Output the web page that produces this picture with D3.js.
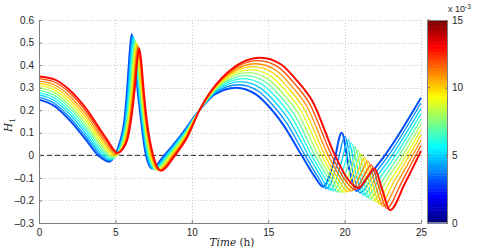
<!DOCTYPE html>
<html>
<head>
<meta charset="utf-8">
<script src="https://cdn.jsdelivr.net/npm/d3@7"></script>
<style>
  body { margin: 0; background: #fff; }
  text { font-family: "Liberation Sans", Arial, sans-serif; }
</style>
</head>
<body>
<div id="chart"></div>
<script>
const width = 479;
const height = 251;

// parameter of each curve (x 10^-3), blue -> red
const params = [3, 4, 5, 6, 7, 8, 9, 10, 11, 12, 13];

// H1 vs time (h), one array per curve
const h1_p3 = [[0,.247],[1,.219],[2,.156],[3,.075],[3.9,-.002],[4.58,-.028],[5.0,.005],[5.3,.06],[5.59,.156],[5.78,.304],[5.93,.45],[6.07,.538],[6.24,.45],[6.43,.304],[6.68,.156],[6.98,.008],[7.4,-.058],[8.2,0],[9.3,.09],[10.5,.2],[11.5,.27],[12.9,.30],[14.2,.27],[15,.22],[16,.134],[17.19,0],[18,-.09],[18.6,-.139],[19.3,-.03],[19.81,.10],[20.3,-.06],[20.79,-.158],[21.6,-.09],[22.64,0],[25,.255]];
const h1_p4 = [[0,.257],[1,.231],[2,.169],[3,.089],[3.95,.006],[4.64,-.024],[5.05,.008],[5.35,.062],[5.64,.157],[5.83,.306],[5.98,.447],[6.12,.532],[6.29,.446],[6.47,.304],[6.72,.156],[7.03,.008],[7.46,-.059],[8.27,0],[9.34,.089],[10.5,.2],[11.55,.278],[13.06,.313],[14.36,.284],[15.19,.231],[16.19,.145],[17.41,0],[18.22,-.092],[18.83,-.147],[19.52,-.037],[20.02,.084],[20.52,-.069],[21.01,-.167],[21.84,-.093],[22.83,-.005],[25,.232]];
const h1_p5 = [[0,.268],[1,.243],[2,.183],[3,.103],[4.0,.013],[4.69,-.020],[5.1,.010],[5.4,.063],[5.68,.159],[5.88,.307],[6.03,.444],[6.17,.525],[6.33,.442],[6.51,.304],[6.75,.156],[7.07,.008],[7.52,-.060],[8.34,0],[9.38,.088],[10.5,.2],[11.6,.285],[13.22,.327],[14.52,.297],[15.38,.242],[16.37,.156],[17.63,0],[18.44,-.093],[19.06,-.153],[19.74,-.043],[20.24,.068],[20.73,-.078],[21.23,-.175],[22.07,-.097],[23.01,-.010],[25,.208]];
const h1_p6 = [[0,.278],[1,.254],[2,.196],[3,.117],[4.05,.021],[4.75,-.016],[5.15,.013],[5.45,.065],[5.73,.160],[5.94,.309],[6.08,.441],[6.22,.519],[6.38,.438],[6.55,.304],[6.79,.156],[7.12,.008],[7.58,-.061],[8.41,0],[9.42,.087],[10.5,.2],[11.65,.293],[13.38,.340],[14.68,.311],[15.57,.253],[16.56,.167],[17.84,0],[18.66,-.095],[19.29,-.158],[19.96,-.050],[20.45,.053],[20.95,-.087],[21.44,-.184],[22.31,-.100],[23.2,-.015],[25,.185]];
const h1_p7 = [[0,.288],[1,.266],[2,.210],[3,.131],[4.1,.029],[4.81,-.012],[5.2,.015],[5.5,.066],[5.77,.162],[5.99,.310],[6.13,.438],[6.27,.512],[6.42,.434],[6.59,.304],[6.83,.156],[7.16,.008],[7.64,-.062],[8.48,0],[9.46,.086],[10.5,.2],[11.7,.300],[13.54,.353],[14.84,.324],[15.76,.264],[16.74,.178],[18.06,0],[18.88,-.096],[19.52,-.162],[20.18,-.056],[20.67,.037],[21.16,-.096],[21.66,-.192],[22.54,-.104],[23.38,-.020],[25,.161]];
const h1_p8 = [[0,.299],[1,.278],[2,.223],[3,.145],[4.15,.037],[4.87,-.008],[5.25,.018],[5.55,.068],[5.82,.163],[6.04,.312],[6.18,.435],[6.32,.506],[6.47,.430],[6.63,.304],[6.87,.156],[7.21,.008],[7.7,-.063],[8.55,0],[9.5,.085],[10.5,.2],[11.75,.308],[13.7,.367],[15.0,.338],[15.95,.275],[16.93,.190],[18.28,0],[19.1,-.098],[19.75,-.164],[20.4,-.063],[20.88,.021],[21.38,-.105],[21.88,-.201],[22.78,-.107],[23.57,-.025],[25,.138]];
const h1_p9 = [[0,.309],[1,.290],[2,.236],[3,.159],[4.2,.044],[4.92,-.004],[5.3,.020],[5.6,.069],[5.87,.164],[6.09,.314],[6.23,.432],[6.36,.500],[6.52,.426],[6.67,.304],[6.9,.156],[7.26,.008],[7.76,-.064],[8.62,0],[9.54,.084],[10.5,.2],[11.8,.315],[13.86,.380],[15.16,.351],[16.14,.286],[17.11,.201],[18.5,0],[19.32,-.099],[19.98,-.164],[20.62,-.069],[21.09,.005],[21.59,-.114],[22.1,-.209],[23.01,-.110],[23.76,-.030],[25,.114]];
const h1_p10 = [[0,.319],[1,.302],[2,.250],[3,.173],[4.25,.052],[4.98,.000],[5.35,.023],[5.65,.071],[5.91,.166],[6.14,.315],[6.28,.429],[6.41,.493],[6.56,.422],[6.71,.304],[6.94,.156],[7.3,.008],[7.82,-.065],[8.69,0],[9.58,.083],[10.5,.2],[11.85,.323],[14.02,.393],[15.32,.365],[16.33,.297],[17.3,.212],[18.72,0],[19.54,-.101],[20.21,-.162],[20.84,-.076],[21.31,-.011],[21.81,-.123],[22.32,-.218],[23.25,-.114],[23.94,-.035],[25,.091]];
const h1_p11 = [[0,.329],[1,.313],[2,.263],[3,.187],[4.3,.060],[5.04,.004],[5.4,.025],[5.7,.072],[5.96,.167],[6.2,.317],[6.33,.426],[6.46,.487],[6.61,.418],[6.75,.304],[6.98,.156],[7.35,.008],[7.88,-.066],[8.76,0],[9.62,.082],[10.5,.2],[11.9,.330],[14.18,.406],[15.48,.378],[16.52,.308],[17.48,.223],[18.93,0],[19.76,-.102],[20.44,-.158],[21.06,-.082],[21.52,-.026],[22.02,-.132],[22.53,-.226],[23.48,-.117],[24.13,-.040],[25,.067]];
const h1_p12 = [[0,.340],[1,.325],[2,.277],[3,.201],[4.35,.067],[5.09,.008],[5.45,.028],[5.75,.074],[6.0,.169],[6.25,.318],[6.38,.423],[6.51,.480],[6.65,.414],[6.79,.304],[7.01,.156],[7.39,.008],[7.94,-.067],[8.83,0],[9.66,.081],[10.5,.2],[11.95,.338],[14.34,.420],[15.64,.392],[16.71,.319],[17.67,.234],[19.15,0],[19.98,-.104],[20.67,-.152],[21.28,-.089],[21.74,-.042],[22.24,-.141],[22.75,-.235],[23.72,-.121],[24.31,-.045],[25,.044]];
const h1_p13 = [[0,.350],[1,.337],[2,.290],[3,.215],[4.4,.075],[5.15,.012],[5.5,.03],[5.8,.075],[6.05,.17],[6.3,.32],[6.43,.42],[6.56,.474],[6.7,.41],[6.83,.304],[7.05,.156],[7.44,.008],[8.0,-.068],[8.9,0],[9.7,.08],[10.5,.2],[12,.345],[14.5,.433],[15.8,.405],[16.9,.33],[17.85,.245],[19.37,0],[20.2,-.105],[20.9,-.145],[21.5,-.095],[21.95,-.058],[22.45,-.15],[22.97,-.243],[23.95,-.124],[24.5,-.05],[25,.02]];

const series = [h1_p3, h1_p4, h1_p5, h1_p6, h1_p7, h1_p8, h1_p9, h1_p10, h1_p11, h1_p12, h1_p13];

const xTicks = [0, 5, 10, 15, 20, 25];
const yTicks = [-0.3, -0.2, -0.1, 0, 0.1, 0.2, 0.3, 0.4, 0.5, 0.6];
const cTicks = [0, 5, 10, 15];
const cDomain = [0, 15];

// MATLAB jet colormap
function jet(v) {
    const c = x => Math.max(0, Math.min(1, x));
    const r = c(1.5 - Math.abs(4 * v - 3));
    const g = c(1.5 - Math.abs(4 * v - 2));
    const b = c(1.5 - Math.abs(4 * v - 1));
    return d3.rgb(r * 255, g * 255, b * 255).formatHex();
}

const plot = { left: 39, right: 421, top: 20, bottom: 223 };
const cbar = { left: 427, right: 448 };

const svg = d3.select("#chart")
    .append("svg")
    .attr("width", width)
    .attr("height", height);

const x = d3.scaleLinear().domain([0, 25]).range([plot.left, plot.right]);
const y = d3.scaleLinear().domain([-0.3, 0.6]).range([plot.bottom, plot.top]);

// dotted grid
const grid = svg.append("g")
    .attr("stroke", "#c8c8c8")
    .attr("stroke-width", 1)
    .attr("stroke-dasharray", "1,2");

grid.selectAll("line.gx")
    .data(xTicks.slice(1))
    .enter().append("line")
    .attr("x1", d => Math.round(x(d)) + 0.5)
    .attr("x2", d => Math.round(x(d)) + 0.5)
    .attr("y1", plot.top)
    .attr("y2", plot.bottom);

grid.selectAll("line.gy")
    .data(yTicks.slice(1))
    .enter().append("line")
    .attr("x1", plot.left)
    .attr("x2", plot.right)
    .attr("y1", d => Math.round(y(d)) + 0.5)
    .attr("y2", d => Math.round(y(d)) + 0.5);

// zero line
svg.append("line")
    .attr("x1", plot.left)
    .attr("x2", plot.right)
    .attr("y1", y(0))
    .attr("y2", y(0))
    .attr("stroke", "#222")
    .attr("stroke-width", 1)
    .attr("stroke-dasharray", "5,3");

// curves
const line = d3.line()
    .x(d => x(d[0]))
    .y(d => y(d[1]))
    .curve(d3.curveMonotoneX);

svg.append("g")
    .attr("fill", "none")
    .selectAll("path")
    .data(series)
    .enter().append("path")
    .attr("d", line)
    .attr("stroke", (d, i) => jet(params[i] / cDomain[1]))
    .attr("stroke-width", (d, i) => (i === 0 || i === series.length - 1) ? 2 : 1.3)
    .attr("stroke-linejoin", "round");

// axes
const fmtY = d => d === 0 ? "0" : d3.format(".1f")(d).replace("\u2212", "\u2013");

const xAxis = svg.append("g")
    .attr("transform", `translate(0,${plot.bottom})`)
    .call(d3.axisBottom(x).tickValues(xTicks).tickSizeInner(-3).tickSizeOuter(0).tickPadding(6));

const yAxis = svg.append("g")
    .attr("transform", `translate(${plot.left},0)`)
    .call(d3.axisLeft(y).tickValues(yTicks).tickFormat(fmtY).tickSizeInner(-3).tickSizeOuter(0).tickPadding(5));

[xAxis, yAxis].forEach(a => {
    a.select(".domain").attr("stroke", "#7f7f7f");
    a.selectAll(".tick line").attr("stroke", "#7f7f7f");
    a.selectAll(".tick text").attr("fill", "#262626").style("font-size", "10px");
});

// axis labels
const xl = svg.append("text")
    .attr("x", 232)
    .attr("y", 246)
    .attr("text-anchor", "middle")
    .style("font-family", "'DejaVu Serif', 'Liberation Serif', serif")
    .style("font-size", "10.5px")
    .attr("fill", "#262626");
xl.append("tspan").style("font-style", "italic").text("Time");
xl.append("tspan").text(" (h)");

const yl = svg.append("text")
    .attr("transform", "translate(12,125) rotate(-90)")
    .attr("text-anchor", "middle")
    .style("font-family", "'DejaVu Serif', 'Liberation Serif', serif")
    .style("font-size", "10.5px")
    .attr("fill", "#262626");
yl.append("tspan").style("font-style", "italic").text("H");
yl.append("tspan").attr("dy", 3).style("font-size", "7.5px").text("1");

// colorbar
const cy = d3.scaleLinear().domain(cDomain).range([plot.bottom, plot.top]);
const nColors = 64;
const bands = d3.range(nColors);
const bandH = (plot.bottom - plot.top) / nColors;

svg.append("g")
    .selectAll("rect")
    .data(bands)
    .enter().append("rect")
    .attr("x", cbar.left)
    .attr("width", cbar.right - cbar.left)
    .attr("y", i => cy(cDomain[0] + (i + 1) * (cDomain[1] - cDomain[0]) / nColors))
    .attr("height", bandH + 0.5)
    .attr("fill", i => jet(i / (nColors - 1)));

svg.append("rect")
    .attr("x", cbar.left + 0.5)
    .attr("y", plot.top + 0.5)
    .attr("width", cbar.right - cbar.left - 1)
    .attr("height", plot.bottom - plot.top - 1)
    .attr("fill", "none")
    .attr("stroke", "#7f7f7f");

const cAxis = svg.append("g")
    .attr("transform", `translate(${cbar.right},0)`)
    .call(d3.axisRight(cy).tickValues(cTicks).tickSizeInner(-3).tickSizeOuter(0).tickPadding(4));
cAxis.select(".domain").remove();
cAxis.selectAll(".tick line").attr("stroke", "#7f7f7f");
cAxis.selectAll(".tick text").attr("fill", "#262626").style("font-size", "10px");

svg.append("g")
    .selectAll("line")
    .data(cTicks)
    .enter().append("line")
    .attr("x1", cbar.left)
    .attr("x2", cbar.left + 3)
    .attr("y1", d => cy(d))
    .attr("y2", d => cy(d))
    .attr("stroke", "#7f7f7f");

const ex = svg.append("text")
    .attr("x", 448)
    .attr("y", 12)
    .attr("fill", "#262626")
    .style("font-size", "9px");
ex.append("tspan").text("x 10");
ex.append("tspan").attr("dy", -3).style("font-size", "6.5px").text("-3");
</script>
</body>
</html>
